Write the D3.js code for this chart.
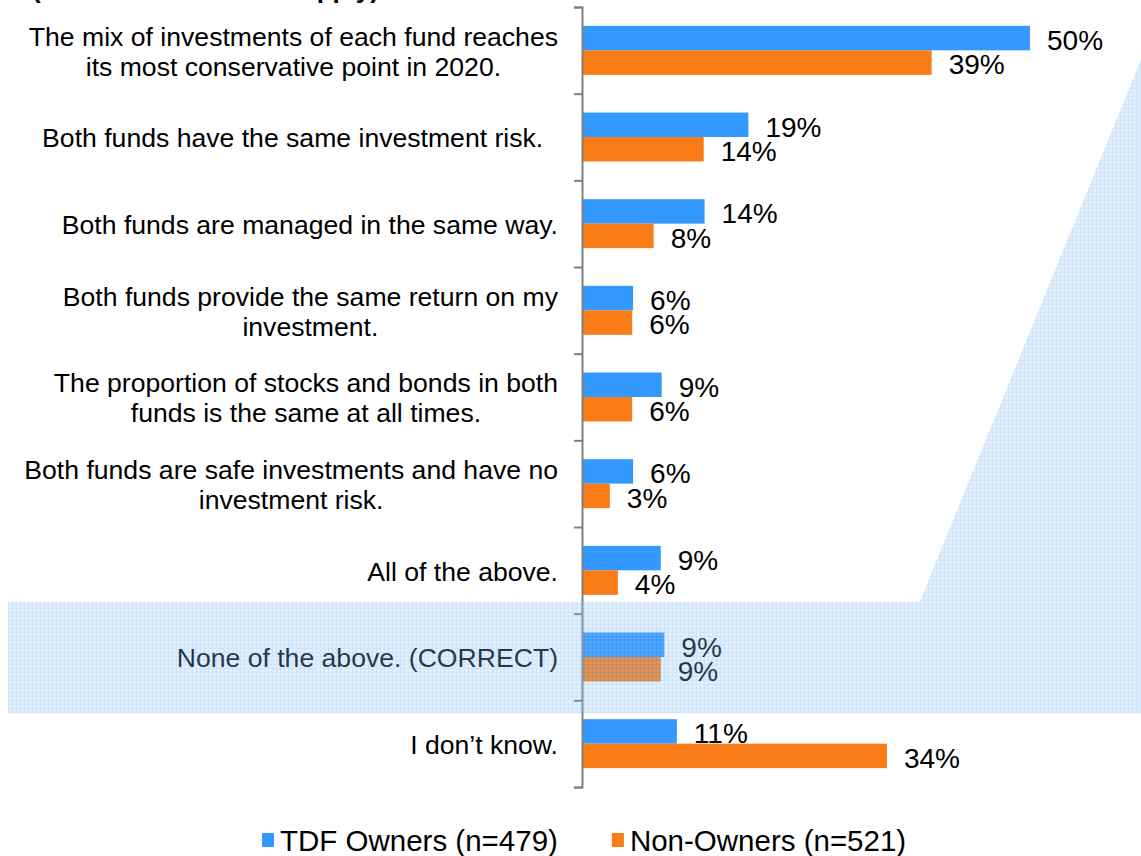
<!DOCTYPE html>
<html>
<head>
<meta charset="utf-8">
<script src="https://cdn.jsdelivr.net/npm/d3@7"></script>
<style>
  body { margin: 0; background: #fff; }
  svg { display: block; font-family: "Liberation Sans", Arial, sans-serif; }
</style>
</head>
<body>
<div id="chart"></div>
<script>
// data
var categories = [
    "The mix of investments of each fund reaches its most conservative point in 2020.",
    "Both funds have the same investment risk.\u00a0\u00a0",
    "Both funds are managed in the same way.",
    "Both funds provide the same return on my investment.",
    "The proportion of stocks and bonds in both funds is the same at all times.",
    "Both funds are safe investments and have no investment risk.",
    "All of the above.",
    "None of the above. (CORRECT)",
    "I don\u2019t know."
];
var seriesNames = ["TDF Owners (n=479)", "Non-Owners (n=521)"];
var tdfOwners = [50, 18.5, 13.6, 5.6, 8.8, 5.6, 8.7, 9.1, 10.5];
var nonOwners = [39, 13.5, 7.9, 5.5, 5.5, 3.0, 3.9, 8.7, 34];
var highlight = "None of the above. (CORRECT)";
var colors = ["#3399ff", "#f97c16"];

// Set the dimension
var width = 1141, height = 856,
    axisX = 582, plotTop = 7, plotBottom = 787;

var svg = d3.select("#chart").append("svg")
    .attr("width", width)
    .attr("height", height);

var rows = categories.map(function(c, i) {
    return { cat: c, values: [tdfOwners[i], nonOwners[i]] };
});

var x = d3.scaleLinear()
    .domain([0, 50])
    .range([0, 447]);

var y = d3.scaleBand()
    .domain(categories)
    .range([plotTop, plotBottom]);

var y1 = d3.scaleBand()
    .domain(seriesNames)
    .range([0, y.bandwidth()])
    .paddingOuter(0.77);

// cut-off heading at the very top
svg.append("text")
    .attr("x", 32)
    .attr("y", -2)
    .attr("font-size", 26)
    .attr("font-weight", "bold")
    .text("(Please select all that apply)");

// bars
var g = svg.append("g")
    .attr("transform", "translate(" + (axisX + 1) + ",0)");

var row = g.selectAll(".row")
    .data(rows)
    .enter().append("g")
    .attr("class", "row")
    .attr("transform", function(d) { return "translate(0," + y(d.cat) + ")"; });

function pairs(d) {
    return d.values.map(function(v, i) { return { s: seriesNames[i], v: v, i: i }; });
}

row.selectAll("rect")
    .data(pairs)
    .enter().append("rect")
    .attr("x", 0)
    .attr("y", function(d) { return y1(d.s); })
    .attr("width", function(d) { return x(d.v); })
    .attr("height", y1.bandwidth())
    .attr("fill", function(d) { return colors[d.i]; });

row.selectAll("text")
    .data(pairs)
    .enter().append("text")
    .attr("x", function(d) { return x(d.v) + 17; })
    .attr("y", function(d) { return y1(d.s) + y1.bandwidth() / 2 + 2; })
    .attr("dy", "0.35em")
    .attr("font-size", 28)
    .attr("fill", "#000")
    .text(function(d) { return Math.round(d.v) + "%"; });

// axis with ticks at the band edges
var yEdge = d3.scaleLinear().domain([0, categories.length]).range([plotTop, plotBottom]);
var axis = svg.append("g")
    .attr("transform", "translate(" + axisX + ",0)")
    .call(d3.axisLeft(yEdge).ticks(categories.length).tickSize(8).tickFormat(""));
axis.selectAll("path, line").attr("stroke", "#808080").attr("stroke-width", 2);

// category labels: wrapped, lines centred in a box right-aligned to 558
svg.append("g").selectAll("text")
    .data(categories)
    .enter().append("text")
    .attr("text-anchor", "middle")
    .attr("font-size", 26.6)
    .attr("fill", "#000")
    .each(function(d) {
        var t = d3.select(this), words = d.split(" "), lines = [], line = [], maxW = 0;
        words.forEach(function(w) {
            line.push(w);
            t.text(line.join(" "));
            if (this.getComputedTextLength() > 545 && line.length > 1) {
                line.pop();
                lines.push(line.join(" "));
                line = [w];
            }
        }, this);
        lines.push(line.join(" "));
        lines.forEach(function(l) {
            t.text(l);
            maxW = Math.max(maxW, this.getComputedTextLength());
        }, this);
        t.text(null);
        var cy = y(d) + y.bandwidth() / 2 + 1;
        lines.forEach(function(l, i) {
            t.append("tspan")
                .attr("x", 558 - maxW / 2)
                .attr("y", cy + (i - (lines.length - 1) / 2) * 30)
                .attr("dy", "0.35em")
                .text(l);
        });
    });

// legend
var legend = svg.append("g");
var lx = 262;
seriesNames.forEach(function(s, i) {
    legend.append("rect")
        .attr("x", lx).attr("y", 833)
        .attr("width", 12).attr("height", 14)
        .attr("fill", colors[i]);
    var t = legend.append("text")
        .attr("x", lx + 18).attr("y", 851)
        .attr("font-size", 29.5)
        .text(s);
    lx += 18 + t.node().getComputedTextLength() + 54;
});

// highlight callout with dotted pattern
var defs = svg.append("defs");
var pat = defs.append("pattern")
    .attr("id", "dots")
    .attr("patternUnits", "userSpaceOnUse")
    .attr("width", 4).attr("height", 4);
pat.append("rect").attr("width", 4).attr("height", 4).attr("fill", "#84bdf6");
pat.append("rect").attr("width", 1).attr("height", 4).attr("fill", "#66aaf0");
pat.append("rect").attr("width", 4).attr("height", 1).attr("fill", "#66aaf0");
pat.append("rect").attr("x", 2).attr("y", 2).attr("width", 1).attr("height", 1).attr("fill", "#ffffff");

var bTop = y(highlight) - 12,
    bBot = y(highlight) + y.bandwidth() + 13,
    apexY = y(categories[0]) + 50,
    slope = 0.406,
    diagX = width - slope * (bTop - apexY);

svg.append("path")
    .attr("d", d3.line()([
        [width + 1, apexY], [diagX, bTop], [8, bTop],
        [8, bBot], [width + 1, bBot]
    ]) + "Z")
    .attr("fill", "url(#dots)")
    .attr("opacity", 0.3);
</script>
</body>
</html>
